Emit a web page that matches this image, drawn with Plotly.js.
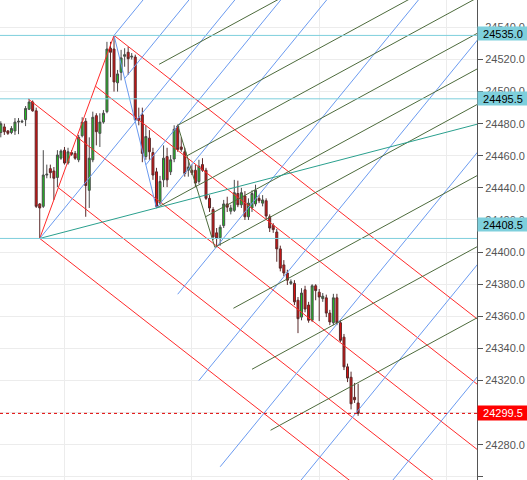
<!DOCTYPE html>
<html>
<head>
<meta charset="utf-8">
<script src="https://cdn.plot.ly/plotly-3.0.1.min.js"></script>
<style>html,body{margin:0;padding:0;background:#fff;overflow:hidden}#chart{width:527px;height:480px}</style>
</head>
<body>
<div id="chart"></div>
<script>
// ---- candle data (bar index order) ----
const openP = [24474.5,24478,24475.5,24474.5,24475.5,24481,24481,24482.5,24489,24493.5,
24488,24430,24428.5,24448,24452,24450.5,24446.5,24458.5,24463.5,24455.5,
24462,24461.5,24457.5,24472.5,24481.5,24438.5,24457.5,24485,24474,24481,
24487.5,24527,24526.5,24505.5,24512,24522,24524.5,24521.5,24521.5,24483.5,
24485.5,24459.5,24471,24462,24450,24430.5,24445,24459.5,24450,24458,
24478.5,24465.5,24462.5,24451,24451,24451,24444,24454.5,24451,24433.5,
24426.5,24412,24409,24416.5,24430,24425.5,24426,24436.5,24429.5,24435,
24422,24427.5,24430,24433.5,24430.5,24432,24422,24416.5,24412.5,24402,
24392,24387,24380.5,24380.5,24370,24359.5,24376.5,24367,24357.5,24379,
24375,24371,24371.5,24362,24356,24371.5,24356,24347,24328.5,24322,
24309.5,24306];
const highP = [24481.5,24480,24476,24478.5,24483.5,24483.5,24482.5,24491,24495.5,24494.5,
24490,24430.5,24463.5,24454.5,24454.5,24453,24463.5,24464,24465.5,24465,
24463.5,24463,24473,24484,24483.5,24471.5,24487.5,24486.5,24486.5,24488.5,
24531,24531,24535,24513.5,24526,24527,24528,24524,24523,24490,
24490,24479,24476,24465,24452.5,24447.5,24466.5,24465,24460.5,24479,
24479.5,24471.5,24465,24457.5,24454.5,24454.5,24457.5,24458.5,24452.5,24435.5,
24428,24415,24417,24432.5,24434.5,24429.5,24445,24444.5,24440,24438,
24433.5,24438.5,24442,24435.5,24435.5,24433.5,24423.5,24418,24414.5,24404,
24395,24389,24383,24382.5,24372,24377.5,24379,24369,24380,24380,
24377,24374.5,24373.5,24364,24374,24374,24357.5,24349,24330.5,24325.5,
24318.5,24318];
const lowP = [24471.5,24473,24473,24473.5,24473,24473.5,24480.5,24478.5,24488.5,24487.5,
24427.5,24408.5,24427.5,24446,24446,24432.5,24440.5,24457.5,24454.5,24454.5,
24460,24457.5,24456,24471.5,24422,24427.5,24456,24466.5,24465.5,24480,
24486.5,24509,24500,24500,24507,24515.5,24510.5,24520,24482,24479,
24456,24457.5,24457.5,24445,24427.5,24429.5,24440.5,24440.5,24448,24456,
24462.5,24462.5,24447,24447,24448,24440.5,24442.5,24450,24432.5,24425,
24407.5,24403,24404,24415,24425,24423.5,24425,24428,24427.5,24420,
24420,24425,24428.5,24430.5,24428.5,24420,24412.5,24412,24394,24388,
24385,24379.5,24379.5,24367,24349.5,24357.5,24362.5,24356,24356.5,24370,
24357,24369,24359.5,24354.5,24354.5,24354.5,24344,24326.5,24319,24302,
24306,24298];
const closeP = [24480,24475,24474,24477,24481,24481.5,24481.5,24489.5,24493.5,24488,
24428.5,24427.5,24448,24448.5,24449.5,24446,24460.5,24463,24455.5,24462.5,
24461,24458.5,24471.5,24481,24441.5,24458.5,24484,24475,24481,24486.5,
24526.5,24524.5,24506,24511,24521,24523,24520.5,24522,24482.5,24482,
24461.5,24472,24462.5,24448,24428.5,24444,24458.5,24445,24457.5,24476.5,
24464,24464,24449,24453,24449.5,24443,24453.5,24451,24433.5,24427.5,
24409.5,24408.5,24415.5,24430,24428,24427.5,24437,24429.5,24437,24422,
24430.5,24436.5,24438.5,24432,24432.5,24422.5,24415,24414,24402,24390,
24387,24382.5,24381.5,24369,24358.5,24374.5,24364.5,24357.5,24379,24376,
24372,24372.5,24362,24356.5,24371.5,24356,24345,24328.5,24321.5,24305.5,
24308,24299.5];
const barIndex = openP.map((_, i) => i);

// ---- drawing anchors [bar index, price] ----
const redFork   = [[7.7, 24495.5], [11, 24408.5], [32, 24535]];
const blueFork  = [[11, 24408.5], [32, 24535], [44, 24427.5]];
const greenFork = [[44, 24427.5], [50, 24479], [60.5, 24403]];
const redLevels   = [-1, -0.5, 0, 0.5, 1];
const blueLevels  = [-1, -0.5, 0, 0.5, 1, 2, 3, 4, 5, 6];
const greenLevels = [-2, -1, -0.5, 0, 0.5, 1, 2, 3, 4];
const trendLine = [[11, 24408.5], [44, 24427.5]];
const hLevels = [24535.0, 24495.5, 24408.5];
const hLabelShift = [2, 0, 14];
const lastPrice = 24299.5;

const XR = [-0.23, 134.6];
const YR = [24258.0, 24557.07];
const XEND = 160;

const shapes = [];
function seg(a, b, color, dash) {
  shapes.push({type:'line', xref:'x', yref:'y', x0:a[0], y0:a[1], x1:b[0], y1:b[1],
    line:{color:color, width:1, dash:dash||'solid'}, layer:'above'});
}
function fork(pts, levels, color) {
  const [p1, p2, p3] = pts;
  const m = [(p2[0]+p3[0])/2, (p2[1]+p3[1])/2];
  const slope = (m[1]-p1[1])/(m[0]-p1[0]);
  const h = [(p3[0]-p2[0])/2, (p3[1]-p2[1])/2];
  seg(p2, p3, color);
  levels.forEach(t => {
    const s = t === 0 ? p1 : [m[0]+t*h[0], m[1]+t*h[1]];
    seg(s, [XEND, s[1] + slope*(XEND - s[0])], color);
  });
}
fork(redFork, redLevels, '#ff2a2a');
fork(blueFork, blueLevels, '#6a9af0');
fork(greenFork, greenLevels, '#4d6b3c');
{
  const [a, b] = trendLine;
  const sl = (b[1]-a[1])/(b[0]-a[0]);
  seg(a, [XEND, a[1] + sl*(XEND - a[0])], '#2aa08e');
}
hLevels.forEach(v => shapes.push({type:'line', xref:'paper', yref:'y', x0:0, x1:1, y0:v, y1:v,
  line:{color:'#7ecfdc', width:1}, layer:'above'}));
shapes.push({type:'line', xref:'paper', yref:'y', x0:0, x1:1, y0:lastPrice, y1:lastPrice,
  line:{color:'#e00000', width:1, dash:'dot'}, layer:'above'});

const annotations = hLevels.map((v, i) => ({
  xref:'paper', yref:'y', x:1, y:v, xanchor:'left', yanchor:'middle', yshift:hLabelShift[i],
  text:v.toFixed(1), showarrow:false, bgcolor:'#7ecfdc', width:50, height:13, borderpad:0,
  font:{family:'Liberation Sans, Arial, sans-serif', size:11, color:'#000'}, align:'center'
}));
annotations.push({xref:'paper', yref:'y', x:1, y:lastPrice, xanchor:'left', yanchor:'middle',
  text:lastPrice.toFixed(1), showarrow:false, bgcolor:'#ff0000', width:50, height:14, borderpad:0,
  font:{family:'Liberation Sans, Arial, sans-serif', size:11, color:'#fff'}, align:'center'});

const trace = {
  type:'candlestick', x:barIndex, open:openP, high:highP, low:lowP, close:closeP,
  increasing:{line:{color:'#4a4a4a', width:1}, fillcolor:'#1ec41e'},
  decreasing:{line:{color:'#5a2a2a', width:1}, fillcolor:'#dd1010'},
  whiskerwidth:0, hoverinfo:'skip', showlegend:false
};

const layout = {
  width:527, height:480, margin:{l:0, r:50, t:0, b:0},
  paper_bgcolor:'#fff', plot_bgcolor:'#fff', showlegend:false, boxgap:0.2,
  font:{family:'Liberation Sans, Arial, sans-serif', size:11, color:'#555'},
  xaxis:{range:XR, rangeslider:{visible:false}, showticklabels:false, tickvals:[18,54,90,126],
    showgrid:true, gridcolor:'#ececec', zeroline:false, showline:false, ticks:''},
  yaxis:{side:'right', range:YR, tick0:24260, dtick:20, tickformat:'.1f', showgrid:true,
    gridcolor:'#ececec', zeroline:false, showline:true, linecolor:'#555', linewidth:1,
    ticks:'outside', ticklen:5, tickcolor:'#555', tickfont:{size:11, color:'#555'}},
  shapes:shapes, annotations:annotations
};
Plotly.newPlot('chart', [trace], layout, {staticPlot:true, displayModeBar:false});
</script>
</body>
</html>
